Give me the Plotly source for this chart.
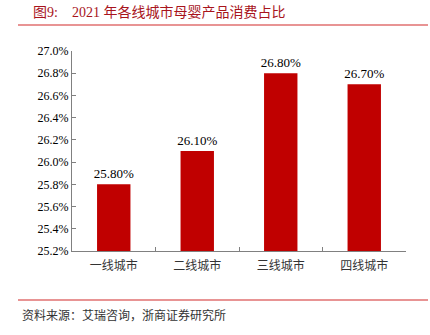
import plotly.graph_objects as go

categories = ["一线城市", "二线城市", "三线城市", "四线城市"]
values = [25.80, 26.10, 26.80, 26.70]
y_ticks = [25.2, 25.4, 25.6, 25.8, 26.0, 26.2, 26.4, 26.6, 26.8, 27.0]
title_text = "图9:&nbsp;&nbsp;&nbsp;&nbsp;2021 年各线城市母婴产品消费占比"
source_text = "资料来源：艾瑞咨询，浙商证券研究所"

SERIF = "'Times New Roman', 'Liberation Serif', 'DejaVu Serif', 'Noto Sans CJK SC', serif"
CJK = "'Times New Roman', 'Liberation Serif', 'Noto Sans CJK SC', serif"

fig = go.Figure(go.Bar(
    x=categories,
    y=values,
    width=0.4,
    marker=dict(color="#C00000", line=dict(width=0)),
    text=[f"{v:.2f}%" for v in values],
    textposition="outside",
    constraintext="none",
    textfont=dict(family=SERIF, size=13, color="#000000"),
    cliponaxis=False,
))

fig.update_layout(
    width=430, height=335,
    margin=dict(l=72, r=24, t=51, b=84),
    paper_bgcolor="white", plot_bgcolor="white",
    showlegend=False,
    font=dict(family=SERIF, color="#000000"),
    xaxis=dict(
        type="category",
        showline=True, linecolor="#808080", linewidth=1,
        ticks="inside", ticklen=4, tickcolor="#808080",
        tickson="boundaries",
        showgrid=False,
        ticklabelstandoff=4,
        tickfont=dict(family=CJK, size=12, color="#333333"),
    ),
    yaxis=dict(
        range=[25.2, 27.0],
        tickmode="array", tickvals=y_ticks,
        ticktext=[f"{t:.1f}%" for t in y_ticks],
        showline=True, linecolor="#808080", linewidth=1,
        ticks="inside", ticklen=4, tickcolor="#808080",
        showgrid=False, zeroline=False,
        tickfont=dict(family=SERIF, size=12, color="#000000"),
    ),
    bargap=0.6,
)

fig.add_annotation(
    text=title_text, xref="paper", yref="paper",
    x=(31 - 72) / 334, y=(251 - 12) / 200,
    xanchor="left", yanchor="middle", showarrow=False,
    font=dict(family=CJK, size=14, color="#A8141C"),
)
fig.add_annotation(
    text=source_text, xref="paper", yref="paper",
    x=(20 - 72) / 334, y=(251 - 315) / 200,
    xanchor="left", yanchor="middle", showarrow=False,
    font=dict(family=CJK, size=12, color="#333333"),
)

for ypix in (25, 300):
    yp = (251 - ypix) / 200
    fig.add_shape(type="line", xref="paper", yref="paper",
                  x0=(18 - 72) / 334, x1=(428 - 72) / 334, y0=yp, y1=yp,
                  line=dict(color="#E07070", width=1.5))

fig.write_html("out.html")
